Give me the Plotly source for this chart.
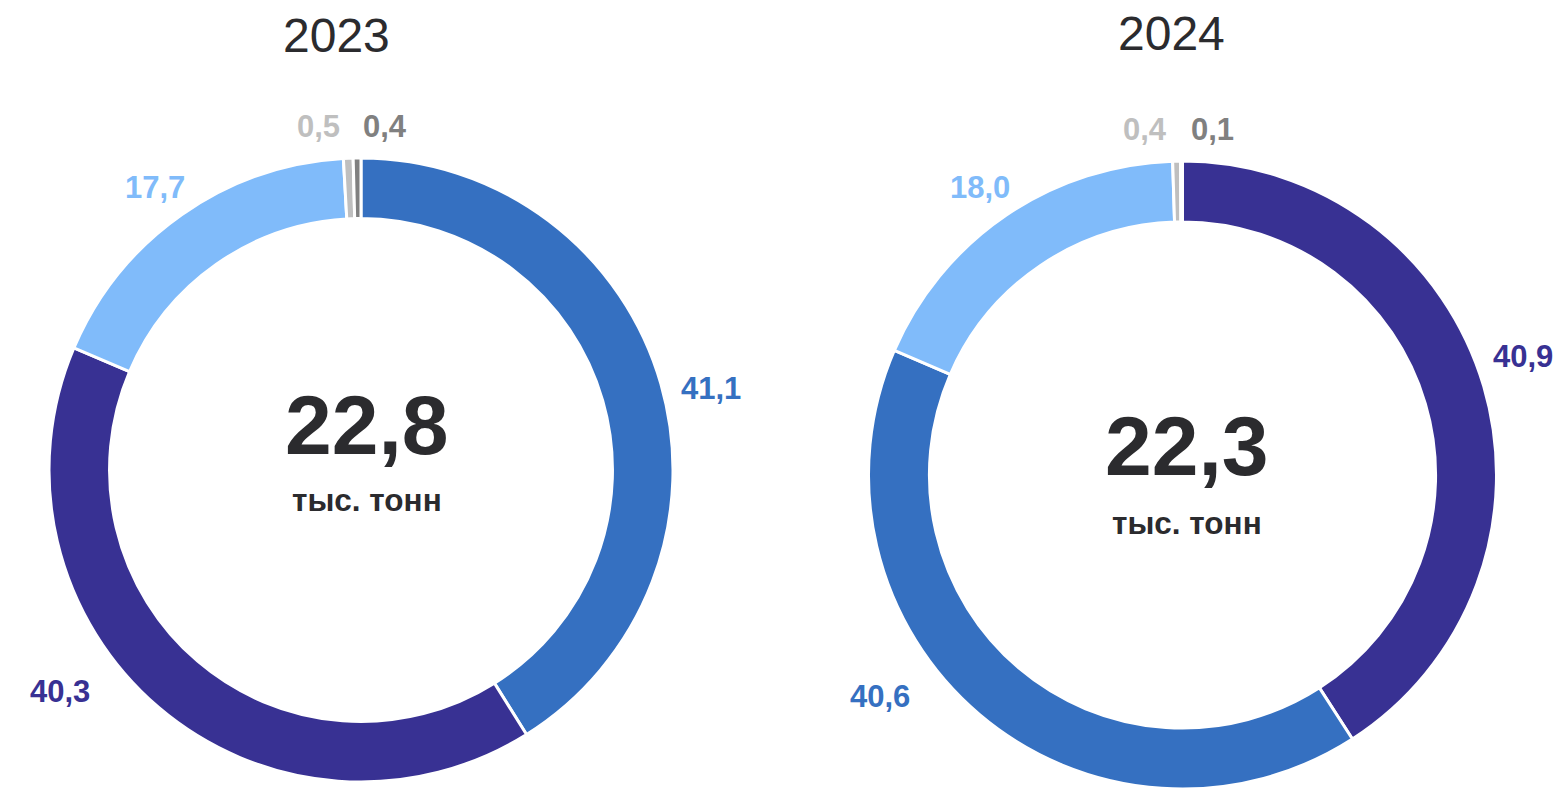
import math
import plotly.graph_objects as go

years = ["2023", "2024"]
totals = ["22,8", "22,3"]
unit = "тыс. тонн"

values_2023 = [41.1, 40.3, 17.7, 0.5, 0.4]
colors_2023 = ["#3570C1", "#383193", "#80BBFA", "#BFBFBF", "#808080"]

values_2024 = [40.9, 40.6, 18.0, 0.4, 0.1]
colors_2024 = ["#383193", "#3570C1", "#80BBFA", "#BFBFBF", "#808080"]

FONT = "Liberation Sans, Arial, sans-serif"
TXT = "#2B2B2E"
W, H = 1555, 789
LABEL_SIZE = 31
LABEL_GAP = 22       # distance between ring and label box
LABEL_PAD_X = 24     # min horizontal gap between neighbouring labels
LABEL_DROP = 20      # side labels sit slightly lower

fig = go.Figure()


def fmt(v):
    return f"{v:.1f}".replace(".", ",")


def text_w(t):
    w = 0.0
    for ch in t:
        w += 0.278 if ch in ",." else 0.556
    return w * LABEL_SIZE


def add_donut(values, colors, cx, cy, r, hole):
    fig.add_trace(go.Pie(
        values=values,
        sort=False,
        direction="clockwise",
        rotation=0,
        hole=hole,
        marker=dict(colors=colors, line=dict(color="white", width=3)),
        textinfo="none",
        domain=dict(x=[(cx - r) / W, (cx + r) / W],
                    y=[max(0, (H - cy - r) / H), min(1, (H - cy + r) / H)]),
        showlegend=False,
        hoverinfo="skip",
    ))

    # outside labels, positioned from the slice mid-angles
    r_eff = r - 1.5
    total = sum(values)
    cum = 0.0
    labs = []
    max_dy = 0.71 * r
    for v, c in zip(values, colors):
        mid = (cum + v / 2) / total * 360.0
        cum += v
        t = fmt(v)
        hw, hh = text_w(t) / 2, 0.358 * LABEL_SIZE

        def centre(theta):
            a = math.radians(theta)
            ux, uy = math.sin(a), -math.cos(a)
            d = r_eff + LABEL_GAP + abs(ux) * hw + abs(uy) * hh
            return cx + d * ux, cy + d * uy + LABEL_DROP * abs(ux)

        th = mid
        x, y = centre(th)
        # keep labels above the lower limit: slide toward the horizontal
        if y - cy > max_dy:
            target = 90.0 if math.sin(math.radians(mid)) > 0 else 270.0
            step = -0.25 if target < th else 0.25
            while y - cy > max_dy and abs(th - target) > 0.3:
                th += step
                x, y = centre(th)
        # keep labels inside the page width: slide toward the vertical
        if x + hw > W - 2 or x - hw < 2:
            upper = math.cos(math.radians(th)) > 0
            if th < 180:
                step = -0.25 if upper else 0.25
            else:
                step = 0.25 if upper else -0.25
            for _ in range(400):
                if 2 <= x - hw and x + hw <= W - 2:
                    break
                th += step
                x, y = centre(th)
        labs.append(dict(t=t, c=c, x=x, y=y, hw=hw, hh=hh))

    # simple horizontal collision resolution
    for _ in range(20):
        moved = False
        for i in range(len(labs)):
            for j in range(i + 1, len(labs)):
                a, b = labs[i], labs[j]
                need = a["hw"] + b["hw"] + LABEL_PAD_X
                if abs(a["y"] - b["y"]) < a["hh"] + b["hh"] + 4 and abs(a["x"] - b["x"]) < need - 0.5:
                    m = (a["x"] + b["x"]) / 2
                    left, right = (a, b) if a["x"] < b["x"] else (b, a)
                    left["x"] = m - need / 2
                    right["x"] = m + need / 2
                    moved = True
        if not moved:
            break

    for L in labs:
        fig.add_annotation(text="<b>%s</b>" % L["t"], x=L["x"] / W, y=1 - L["y"] / H,
                           xref="paper", yref="paper", xanchor="center", yanchor="middle",
                           showarrow=False, font=dict(size=LABEL_SIZE, color=L["c"], family=FONT))


add_donut(values_2023, colors_2023, 361.0, 470.0, 312.0, 0.806)
add_donut(values_2024, colors_2024, 1182.5, 475.0, 314.0, 0.806)

# titles
for yr, xpos, ypos in [(years[0], 336, 35), (years[1], 1171, 34)]:
    fig.add_annotation(text=yr, x=xpos / W, y=1 - ypos / H, xref="paper", yref="paper",
                       xanchor="center", yanchor="middle",
                       showarrow=False, font=dict(size=48, color=TXT, family=FONT))

# centre labels
for tot, xpos, y1, y2 in [(totals[0], 366.7, 425, 500), (totals[1], 1187, 446, 522.5)]:
    fig.add_annotation(text="<b>%s</b>" % tot, x=xpos / W, y=1 - y1 / H, xref="paper", yref="paper",
                       xanchor="center", yanchor="middle",
                       showarrow=False, font=dict(size=84, color=TXT, family=FONT))
    fig.add_annotation(text="<b>%s</b>" % unit, x=xpos / W, y=1 - y2 / H, xref="paper", yref="paper",
                       xanchor="center", yanchor="middle",
                       showarrow=False, font=dict(size=31.5, color=TXT, family=FONT))

fig.update_layout(
    width=W, height=H,
    margin=dict(l=0, r=0, t=0, b=0),
    paper_bgcolor="white",
    plot_bgcolor="white",
    font=dict(family=FONT),
)

fig.write_html(
    "out.html",
    config={"displayModeBar": False},
    post_script="document.body.style.margin='0px';document.body.style.overflow='hidden';",
)
